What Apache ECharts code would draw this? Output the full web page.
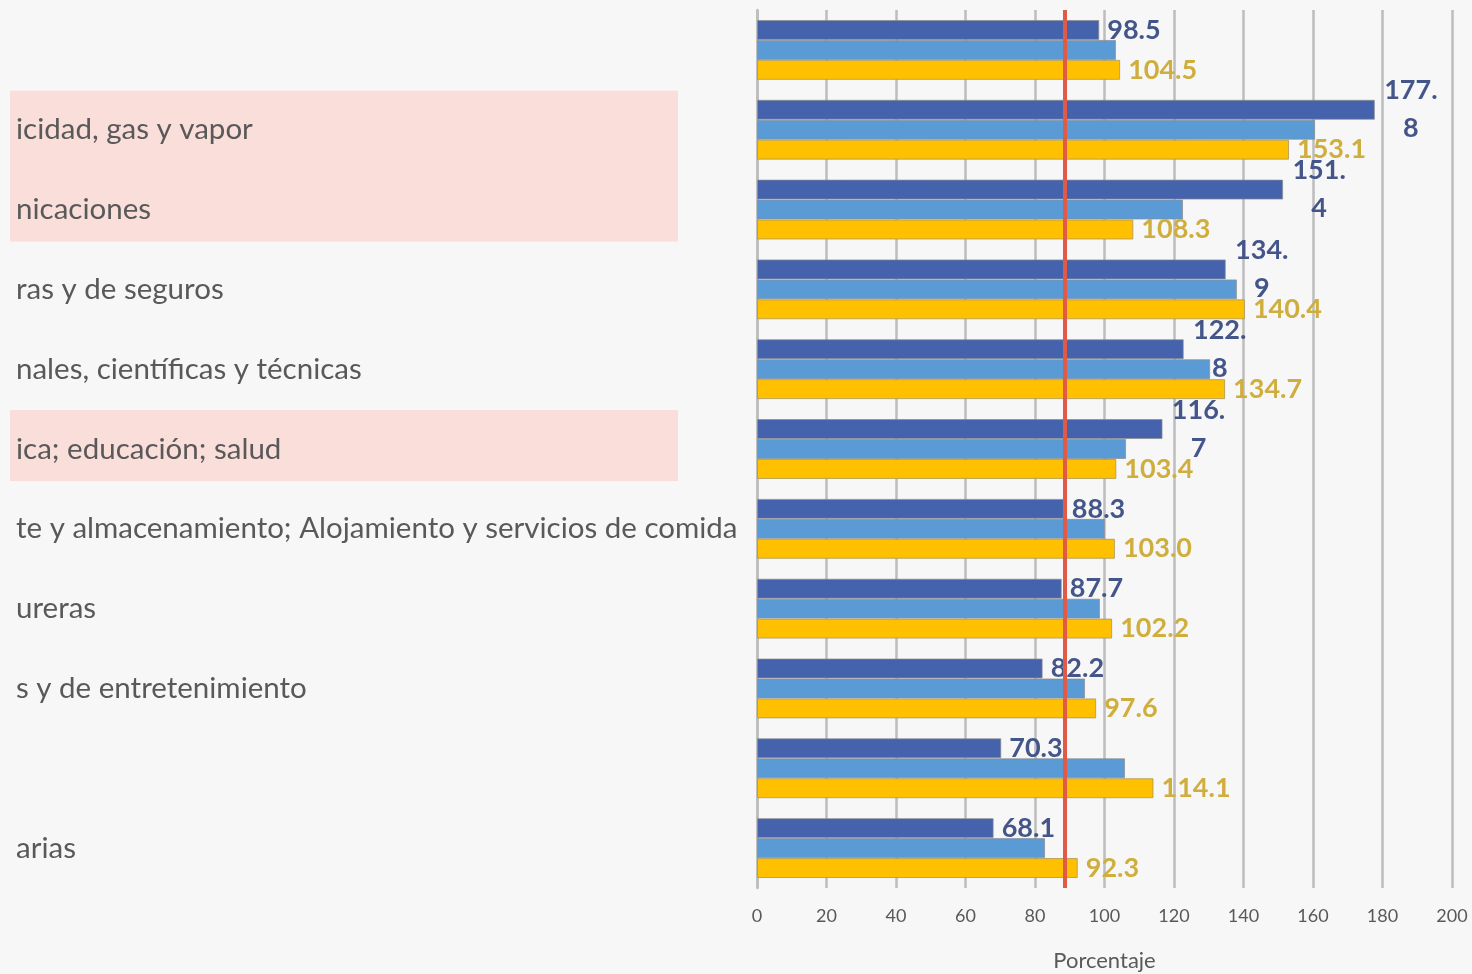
<!DOCTYPE html>
<html>
<head>
<meta charset="utf-8">
<script src="https://cdn.jsdelivr.net/npm/echarts@6/dist/echarts.min.js"></script>
<style>
  html, body { margin: 0; padding: 0; background: #f7f7f7; }
  #main { width: 1472px; height: 974px; }
</style>
</head>
<body>
<div id="main"></div>
<script>
// categories, top to bottom (only the visible part of each label)
var categories = [
  '',
  'icidad, gas y vapor',
  'nicaciones',
  'ras y de seguros',
  'nales, científicas y técnicas',
  'ica; educación; salud',
  'te y almacenamiento; Alojamiento y servicios de comida',
  'ureras',
  's y de entretenimiento',
  '',
  'arias'
];

var serieOscura = [98.5, 177.8, 151.4, 134.9, 122.8, 116.7, 88.3, 87.7, 82.2, 70.3, 68.1];
var serieClara = [103.3, 160.6, 122.6, 138.1, 130.4, 106.2, 100.1, 98.7, 94.4, 105.9, 82.9];
var serieAmarilla = [104.5, 153.1, 108.3, 140.4, 134.7, 103.4, 103.0, 102.2, 97.6, 114.1, 92.3];

var xTicks = [0, 20, 40, 60, 80, 100, 120, 140, 160, 180, 200];
var referencia = 88.6;

// groups of categories with a pink highlight behind the label
var resaltados = [[1, 2], [5]];

var chart = echarts.init(document.getElementById('main'));

// dark labels >= 100 wrap onto two lines in the original
function darkLabel(p) {
  var s = p.value.toFixed(1);
  if (p.value >= 100) {
    var parts = s.split('.');
    return '{w|' + parts[0] + '.}\n{w|' + parts[1] + '}';
  }
  return s;
}

var option = {
  backgroundColor: '#f7f7f7',
  animation: false,
  grid: {
    left: 757,
    right: 20,
    top: 10,
    bottom: 86,
    containLabel: false,
    outerBoundsMode: 'none'
  },
  xAxis: {
    type: 'value',
    min: xTicks[0],
    max: xTicks[xTicks.length - 1],
    interval: 20,
    name: 'Porcentaje',
    nameLocation: 'middle',
    nameGap: 62,
    nameTextStyle: { fontFamily: 'Lato', fontSize: 22, color: '#595959' },
    axisLine: { show: false },
    axisTick: { show: false },
    axisLabel: { fontFamily: 'Lato', fontSize: 18, color: '#595959', margin: 19 },
    splitLine: { show: true, lineStyle: { color: '#bdbdbd', width: 2.5 } }
  },
  yAxis: {
    type: 'category',
    data: categories,
    inverse: true,
    axisLine: { show: true, lineStyle: { color: '#bdbdbd', width: 2.5 } },
    axisTick: { show: false },
    axisLabel: {
      align: 'left',
      margin: 741,
      fontFamily: 'Lato',
      fontSize: 29.5,
      color: '#595959'
    }
  },
  series: [
    {
      name: 'oscura',
      type: 'bar',
      data: serieOscura,
      barGap: '0%',
      barCategoryGap: '25%',
      itemStyle: { color: '#4562ad', borderColor: 'rgba(140,140,140,0.7)', borderWidth: 1 },
      label: {
        show: true,
        position: 'right',
        distance: 8,
        formatter: darkLabel,
        fontFamily: 'Lato',
        fontWeight: 'bold',
        fontSize: 27,
        color: '#44558a',
        lineHeight: 38,
        rich: {
          w: { width: 56, align: 'center', fontFamily: 'Lato', fontWeight: 'bold', fontSize: 27, color: '#44558a', lineHeight: 38 }
        }
      },
      markLine: {
        silent: true,
        symbol: 'none',
        label: { show: false },
        lineStyle: { color: '#e05a45', width: 4, type: 'solid' },
        data: [{ xAxis: referencia }],
        z: 10
      }
    },
    {
      name: 'clara',
      type: 'bar',
      data: serieClara,
      barGap: '0%',
      barCategoryGap: '25%',
      itemStyle: { color: '#5b9bd5', borderColor: 'rgba(140,140,140,0.7)', borderWidth: 1 }
    },
    {
      name: 'amarilla',
      type: 'bar',
      data: serieAmarilla,
      barGap: '0%',
      barCategoryGap: '25%',
      itemStyle: { color: '#ffc000', borderColor: 'rgba(170,150,90,0.8)', borderWidth: 1 },
      label: {
        show: true,
        position: 'right',
        distance: 8,
        formatter: function (p) { return p.value.toFixed(1); },
        fontFamily: 'Lato',
        fontWeight: 'bold',
        fontSize: 27,
        color: '#cfae3e'
      }
    }
  ]
};

chart.setOption(option);

// pink boxes behind highlighted labels, placed from the category scale
var rects = resaltados.map(function (g) {
  var first = chart.convertToPixel({ yAxisIndex: 0 }, g[0]);
  var last = chart.convertToPixel({ yAxisIndex: 0 }, g[g.length - 1]);
  var top = first - 39;
  var bottom = last + 32;
  return {
    type: 'rect',
    shape: { x: 10, y: top, width: 668, height: bottom - top },
    style: { fill: '#f9deda' },
    z: -1
  };
});
chart.setOption({ graphic: { elements: rects } });
</script>
</body>
</html>
